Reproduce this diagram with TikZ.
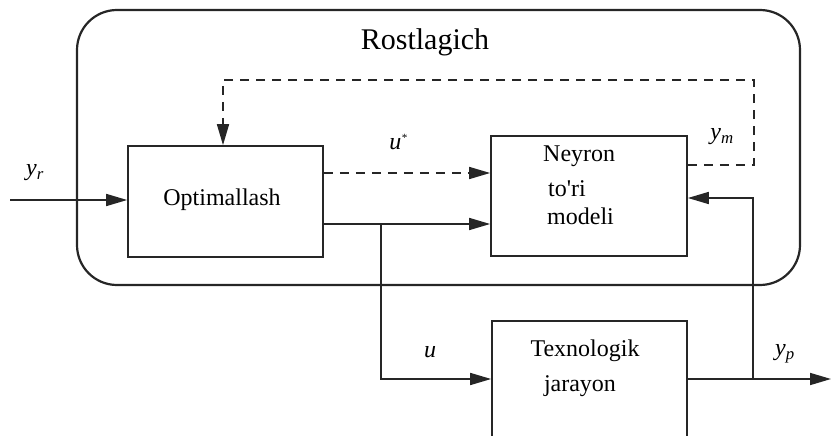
\documentclass[tikz,border=0pt]{standalone}
\usepackage{fontspec}
\setmainfont{Liberation Serif}
\usetikzlibrary{arrows.meta}
\begin{document}
\begin{tikzpicture}[x=1pt,y=-1pt,
  ink/.style={draw=black!85},
  conn/.style={ink, line width=1.7pt, -{Triangle[length=21pt,width=12pt]}},
  dashline/.style={dash pattern=on 9pt off 7pt},
  block/.style={ink, line width=1.7pt, fill=white, inner sep=0pt},
  txt/.style={font=\fontsize{24}{28}\selectfont, inner sep=0pt},
  lab/.style={font=\fontsize{24}{28}\selectfont\itshape, inner sep=0pt}]
\useasboundingbox (0,0) rectangle (831,436);
\clip (0,0) rectangle (831,436);

% controller frame
\draw[ink, line width=2.2pt, rounded corners=40pt] (77,10) rectangle (800,285);
\node[txt, font=\fontsize{30}{34}\selectfont] (title) at (425,42) {Rostlagich};

% blocks
\node[block, minimum width=195pt, minimum height=111pt] (opt) at (225.5,201.5) {};
\node[txt] (optT) at (222,200) {Optimallash};
\node[block, minimum width=196pt, minimum height=120pt] (nm) at (589,196) {};
\node[txt, anchor=base west] (nm1) at (543,161) {Neyron};
\node[txt, anchor=base west] (nm2) at (548,196) {to\textquotesingle ri};
\node[txt, anchor=base west] (nm3) at (547,224) {modeli};
\node[block, minimum width=195pt, minimum height=139pt] (tp) at (589.5,390.5) {};
\node[txt] (tp1) at (585,351) {Texnologik};
\node[txt] (tp2) at (580,386) {jarayon};

% reference input
\coordinate (in) at (10,200);
\draw[conn] (in) -- (opt.west |- in);
\node[lab] (yr) at (35,173) {y\textsubscript{r}};

% trial control to the model (dashed)
\coordinate (us) at (opt.east |- 0,173);
\draw[conn, dashline] (us) -- (nm.west |- us);
\node[lab] (ustar) at (398,142) {u\raisebox{8pt}{\fontsize{11}{11}\selectfont *}};

% model output back to the optimiser (dashed)
\coordinate (ym) at (nm.east |- 0,165);
\coordinate (c1) at (754,165);
\coordinate (c2) at (754,80);
\coordinate (c3) at (223,80);
\draw[conn, dashline] (ym) -- (c1) -- (c2) -- (c3) -- (opt.north -| c3);
\node[lab] (yml) at (722,137) {y\textsubscript{m}};

% control signal
\coordinate (uo) at (opt.east |- 0,224);
\coordinate (br) at (381,224);
\coordinate (bd) at (381,379);
\draw[conn] (uo) -- (nm.west |- uo);
\draw[conn] (br) -- (bd) -- (tp.west |- bd);
\node[lab] (ul) at (430,352) {u};

% plant output
\coordinate (po) at (tp.east |- 0,379);
\coordinate (out) at (831,379);
\coordinate (pj) at (753,379);
\coordinate (pu) at (753,198);
\draw[conn] (po) -- (out);
\draw[conn] (pj) -- (pu) -- (nm.east |- pu);
\node[lab] (ypl) at (785,354) {y\textsubscript{p}};
\end{tikzpicture}
\end{document}
